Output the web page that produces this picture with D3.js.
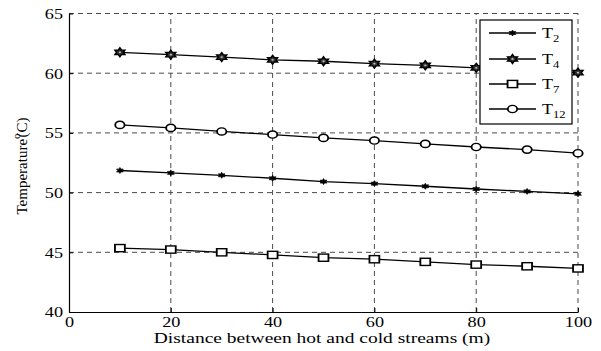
<!DOCTYPE html>
<html>
<head>
<meta charset="utf-8">
<script src="https://cdn.jsdelivr.net/npm/d3@7"></script>
<style>
  html, body { margin: 0; padding: 0; background: #fff; }
  svg { display: block; }
  text { font-family: "Liberation Serif", "Times New Roman", serif; fill: #000; }
</style>
</head>
<body>
<svg id="chart" width="601" height="351"></svg>
<script>
// Distance between the streams (m)
const distances = [10, 20, 30, 40, 50, 60, 70, 80, 90, 100];
// Temperatures (°C)
const t2Values  = [51.85, 51.65, 51.45, 51.2, 50.92, 50.75, 50.53, 50.3, 50.1, 49.9];
const t4Values  = [61.75, 61.55, 61.35, 61.12, 61.0, 60.8, 60.66, 60.45, 60.25, 60.05];
const t7Values  = [45.35, 45.23, 45.0, 44.78, 44.55, 44.42, 44.2, 43.97, 43.83, 43.65];
const t12Values = [55.67, 55.42, 55.12, 54.86, 54.58, 54.36, 54.08, 53.82, 53.6, 53.3];
const seriesNames = ["2", "4", "7", "12"];
const xTickValues = [0, 20, 40, 60, 80, 100];
const yTickValues = [40, 45, 50, 55, 60, 65];

const series = [
  { sub: seriesNames[0], values: t2Values,  marker: "star" },
  { sub: seriesNames[1], values: t4Values,  marker: "hexagram" },
  { sub: seriesNames[2], values: t7Values,  marker: "square" },
  { sub: seriesNames[3], values: t12Values, marker: "circle" }
];

const SX = 1.3;  // horizontal stretch of glyphs and markers
const svg = d3.select("#chart");
const x = d3.scaleLinear().domain([0, 100]).range([69, 578]);
const y = d3.scaleLinear().domain([40, 65]).range([312, 13.5]);

// dashed grid
const grid = svg.append("g").attr("stroke", "#4a4a4a").attr("stroke-width", 1)
  .attr("stroke-dasharray", "5,4").attr("fill", "none");
grid.selectAll("line.v").data(xTickValues.filter(d => d > 0)).join("line")
  .attr("class", "v")
  .attr("x1", d => x(d)).attr("x2", d => x(d))
  .attr("y1", y(40)).attr("y2", y(65));
grid.selectAll("line.h").data(yTickValues.filter(d => d > 40)).join("line")
  .attr("class", "h")
  .attr("x1", x(0)).attr("x2", x(100))
  .attr("y1", d => y(d)).attr("y2", d => y(d));

// axes
const xAxis = svg.append("g").attr("transform", `translate(0,${y(40)})`)
  .call(d3.axisBottom(x).tickValues(xTickValues).tickSize(-4).tickSizeOuter(0).tickFormat(d3.format("d")));
const yAxis = svg.append("g").attr("transform", `translate(${x(0)},0)`)
  .call(d3.axisLeft(y).tickValues(yTickValues).tickSize(-4).tickSizeOuter(0).tickFormat(d3.format("d")));
[xAxis, yAxis].forEach(a => {
  a.select(".domain").attr("stroke", "#000").attr("stroke-width", 1.2);
  a.selectAll(".tick line").attr("stroke", "#000");
  a.selectAll(".tick text").attr("font-family", "Liberation Serif").attr("font-size", 14).attr("fill", "#000");
});
xAxis.selectAll(".tick text").attr("y", 15.5).attr("dy", 0).attr("transform", `scale(${SX},1)`);
yAxis.selectAll(".tick text").attr("x", -6 / SX).attr("dy", "0.35em").attr("transform", `scale(${SX},1)`);

// axis titles
svg.append("g").attr("transform", `translate(322,343) scale(${SX},1)`)
  .append("text").attr("text-anchor", "middle").attr("font-size", 15)
  .text("Distance between hot and cold streams (m)");

const yTitle = svg.append("text")
  .attr("transform", "translate(27,166) rotate(-90)")
  .attr("text-anchor", "middle").attr("font-size", 15);
yTitle.append("tspan").text("Temperature");
yTitle.append("tspan").attr("font-size", 11).attr("dy", -7).text("o");
yTitle.append("tspan").attr("dy", 7).attr("dx", -4).text("(C)");

// marker shapes
function starPath(points, rOut, rIn) {
  const pts = [];
  for (let i = 0; i < points * 2; i++) {
    const r = i % 2 === 0 ? rOut : rIn;
    const a = -Math.PI / 2 + i * Math.PI / points;
    pts.push([r * Math.cos(a), r * Math.sin(a)]);
  }
  return "M" + pts.map(p => p.join(",")).join("L") + "Z";
}
function drawMarker(g, type) {
  if (type === "star") {
    g.append("path").attr("d", starPath(6, 3.0, 1.6)).attr("fill", "#000").attr("stroke", "#000").attr("stroke-width", 0.6);
  } else if (type === "hexagram") {
    g.append("path").attr("d", starPath(6, 4.4, 4.4 / Math.sqrt(3))).attr("fill", "#333").attr("stroke", "#000").attr("stroke-width", 1.3);
    g.append("circle").attr("r", 0.9).attr("fill", "#bbb");
  } else if (type === "square") {
    g.append("rect").attr("x", -3.8).attr("y", -3.6).attr("width", 7.6).attr("height", 7.2)
      .attr("fill", "#fff").attr("stroke", "#000").attr("stroke-width", 1.4);
  } else {
    g.append("circle").attr("r", 3.6).attr("fill", "#fff").attr("stroke", "#000").attr("stroke-width", 1.4);
  }
}

// series lines and markers
const line = d3.line().x((d, i) => x(distances[i])).y(d => y(d));
series.forEach(s => {
  svg.append("path").datum(s.values).attr("d", line)
    .attr("fill", "none").attr("stroke", "#000").attr("stroke-width", 1.3);
  s.values.forEach((v, i) => {
    const g = svg.append("g").attr("transform", `translate(${x(distances[i])},${y(v)}) scale(${SX},1)`);
    drawMarker(g, s.marker);
  });
});

// legend
const legend = svg.append("g");
legend.append("rect").attr("x", 480).attr("y", 20).attr("width", 92).attr("height", 104)
  .attr("fill", "#fff").attr("stroke", "#000").attr("stroke-width", 1.2);
const rowY = [33, 59, 84, 109];
series.forEach((s, i) => {
  const ry = rowY[i];
  legend.append("line").attr("x1", 489).attr("x2", 536).attr("y1", ry).attr("y2", ry)
    .attr("stroke", "#000").attr("stroke-width", 1.3);
  drawMarker(legend.append("g").attr("transform", `translate(512.5,${ry}) scale(${SX},1)`), s.marker);
  const t = legend.append("g").attr("transform", `translate(542,${ry + 5}) scale(1.2,1)`)
    .append("text").attr("font-size", 15);
  t.append("tspan").text("T");
  t.append("tspan").attr("font-size", 10.5).attr("dy", 4).text(s.sub);
});
</script>
</body>
</html>
